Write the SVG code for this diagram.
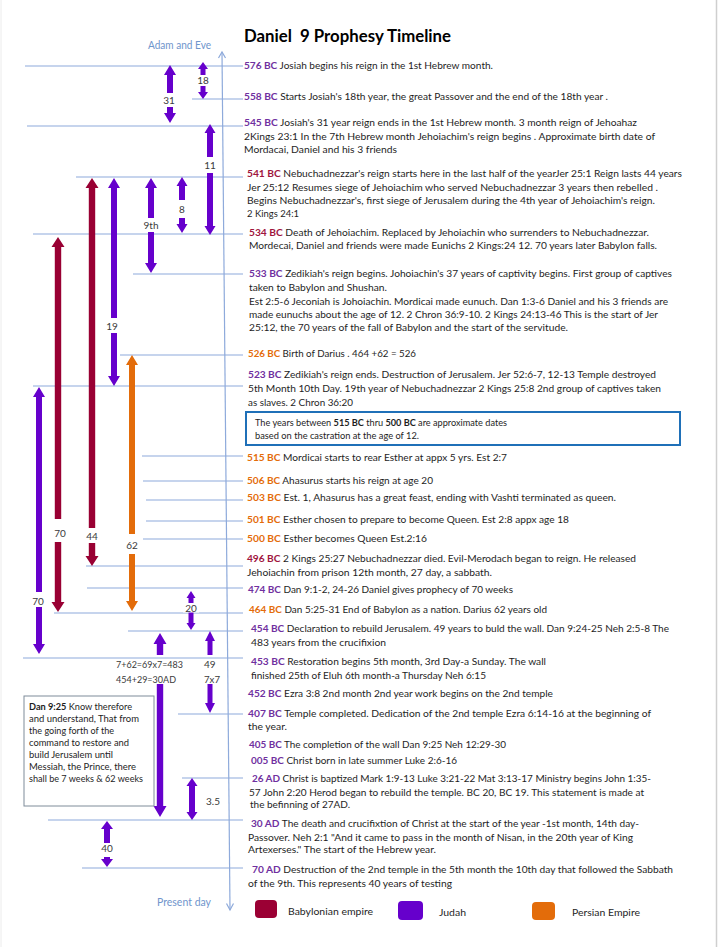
<svg xmlns="http://www.w3.org/2000/svg" width="720" height="947" viewBox="0 0 720 947">
<style>
text{font-family:Lato,"Liberation Sans",sans-serif;}
.t{font-size:10px;fill:#1e1e1e;}
.p{fill:#7030a0;font-weight:bold;}
.r{fill:#a0153e;font-weight:bold;}
.o{fill:#e46c0a;font-weight:bold;}
.hl{stroke:#8eaadb;stroke-width:1.2;fill:none;}
.ap{fill:#6600cc;}
.ar{fill:#990033;}
.ao{fill:#e36c0a;}
.lb{font-size:10px;fill:#3a3a3a;}
.bg{fill:#ffffff;}
.ax{font-size:10.5px;fill:#6f95cc;}
.nt{font-size:9px;fill:#1e1e1e;}
</style>
<rect x="0" y="0" width="720" height="947" fill="#ffffff"/>
<line x1="716.5" y1="0" x2="716.5" y2="947" stroke="#cfcfcf" stroke-width="1.5"/>
<line x1="1" y1="0" x2="1" y2="947" stroke="#ececec" stroke-width="1"/>

<g id="axis">
<line x1="222" y1="52" x2="230" y2="910" stroke="#8eaadb" stroke-width="1.2"/>
<polyline points="218.5,58 222,52 225.5,58" fill="none" stroke="#8eaadb" stroke-width="1.2"/>
<polyline points="226.5,903.5 230,910 233.5,903.5" fill="none" stroke="#8eaadb" stroke-width="1.2"/>
<text class="ax" x="148" y="49" textLength="63" lengthAdjust="spacingAndGlyphs">Adam and Eve</text>
<text class="ax" x="157" y="905.5" textLength="54" lengthAdjust="spacingAndGlyphs">Present day</text>
</g>

<g id="timeline-lines">
<line class="hl" x1="25" y1="66" x2="243" y2="66"/>
<line class="hl" x1="192" y1="99" x2="243" y2="99"/>
<line class="hl" x1="27" y1="126" x2="243" y2="126"/>
<line class="hl" x1="76" y1="177" x2="243" y2="177"/>
<line class="hl" x1="33" y1="234" x2="243" y2="234"/>
<line class="hl" x1="133" y1="274" x2="243" y2="274"/>
<line class="hl" x1="120" y1="355" x2="243" y2="355"/>
<line class="hl" x1="33" y1="386" x2="243" y2="386"/>
<line class="hl" x1="142" y1="456" x2="243" y2="456"/>
<line class="hl" x1="143" y1="481" x2="243" y2="481"/>
<line class="hl" x1="146" y1="500" x2="243" y2="500"/>
<line class="hl" x1="146" y1="521" x2="243" y2="521"/>
<line class="hl" x1="143" y1="539" x2="243" y2="539"/>
<line class="hl" x1="86" y1="566" x2="243" y2="566"/>
<line class="hl" x1="87" y1="588" x2="243" y2="588"/>
<line class="hl" x1="54" y1="613" x2="243" y2="613"/>
<line class="hl" x1="128" y1="631" x2="243" y2="631"/>
<line class="hl" x1="23" y1="658" x2="243" y2="658"/>
<line class="hl" x1="178" y1="714" x2="243" y2="714"/>
<line class="hl" x1="182" y1="778" x2="243" y2="778"/>
<line class="hl" x1="48" y1="820" x2="243" y2="820"/>
<line class="hl" x1="82" y1="868" x2="243" y2="868"/>
</g>

<g id="connectors">
<path class="ap" d="M170 65 L176 75 L173 75 L173 113 L176 113 L170 123 L164 113 L167 113 L167 75 L164 75 Z"/>
<path class="ap" d="M203 62 L208 69 L205.5 69 L205.5 92 L208 92 L203 99 L198 92 L200.5 92 L200.5 69 L198 69 Z"/>
<path class="ap" d="M210 124 L215.5 133 L213 133 L213 226 L215.5 226 L210 235 L204.5 226 L207 226 L207 133 L204.5 133 Z"/>
<path class="ar" d="M92 178 L98.5 188 L95.2 188 L95.2 556 L98.5 556 L92 566 L85.5 556 L88.8 556 L88.8 188 L85.5 188 Z"/>
<path class="ap" d="M114 178 L120 188 L117 188 L117 376 L120 376 L114 386 L108 376 L111 376 L111 188 L108 188 Z"/>
<path class="ap" d="M151 178 L157 188 L154 188 L154 263 L157 263 L151 273 L145 263 L148 263 L148 188 L145 188 Z"/>
<path class="ap" d="M182 177 L187.5 186 L185 186 L185 224 L187.5 224 L182 233 L176.5 224 L179 224 L179 186 L176.5 186 Z"/>
<path class="ar" d="M58 237 L64.5 247 L61.2 247 L61.2 602 L64.5 602 L58 612 L51.5 602 L54.8 602 L54.8 247 L51.5 247 Z"/>
<path class="ap" d="M39 387 L45 397 L42 397 L42 644 L45 644 L39 654 L33 644 L36 644 L36 397 L33 397 Z"/>
<path class="ao" d="M132 355 L138 365 L135 365 L135 601 L138 601 L132 611 L126 601 L129 601 L129 365 L126 365 Z"/>
<path class="ap" d="M191 591 L195.5 598 L193.5 598 L193.5 623 L195.5 623 L191 630 L186.5 623 L188.5 623 L188.5 598 L186.5 598 Z"/>
<path class="ap" d="M160 633 L166.5 644 L163.2 644 L163.2 655 L156.8 655 L156.8 644 L153.5 644 Z"/>
<path class="ap" d="M156.8 684 L163.2 684 L163.2 806 L166.5 806 L160 817 L153.5 806 L156.8 806 Z"/>
<path class="ap" d="M210 631 L215 641 L212.5 641 L212.5 655 L207.5 655 L207.5 641 L205 641 Z"/>
<path class="ap" d="M207.5 684 L212.5 684 L212.5 703 L215 703 L210 713 L205 703 L207.5 703 Z"/>
<path class="ap" d="M192 778 L197.5 786 L195 786 L195 812 L197.5 812 L192 820 L186.5 812 L189 812 L189 786 L186.5 786 Z"/>
<path class="ap" d="M107 821 L113 829 L110 829 L110 859 L113 859 L107 867 L101 859 L104 859 L104 829 L101 829 Z"/>
</g>

<g id="arrow-labels">
<rect class="bg" x="162" y="93" width="16" height="14"/>
<text class="lb" x="169" y="103.5" text-anchor="middle">31</text>
<rect class="bg" x="196" y="75" width="14" height="11"/>
<text class="lb" x="203" y="83.5" text-anchor="middle">18</text>
<rect class="bg" x="203" y="157" width="14" height="16"/>
<text class="lb" x="210" y="168.5" text-anchor="middle">11</text>
<rect class="bg" x="176" y="200" width="12" height="18"/>
<text class="lb" x="182" y="212.5" text-anchor="middle">8</text>
<rect class="bg" x="141" y="218" width="20" height="14"/>
<text class="lb" x="151" y="228.5" text-anchor="middle">9th</text>
<rect class="bg" x="105" y="318" width="16" height="15"/>
<text class="lb" x="112" y="329.5" text-anchor="middle">19</text>
<rect class="bg" x="51" y="519" width="17" height="23"/>
<text class="lb" x="60" y="536.5" text-anchor="middle">70</text>
<rect class="bg" x="84" y="528" width="16" height="15"/>
<text class="lb" x="92" y="539.5" text-anchor="middle">44</text>
<rect class="bg" x="124" y="534" width="16" height="20"/>
<text class="lb" x="132" y="548.5" text-anchor="middle">62</text>
<rect class="bg" x="30" y="592" width="17" height="15"/>
<text class="lb" x="38" y="604.5" text-anchor="middle">70</text>
<rect class="bg" x="183" y="603" width="16" height="9.5"/>
<text class="lb" x="191" y="611.5" text-anchor="middle">20</text>
<text class="lb" x="116" y="667.5" textLength="67" lengthAdjust="spacingAndGlyphs">7+62=69x7=483</text>
<text class="lb" x="116" y="682.5" textLength="60" lengthAdjust="spacingAndGlyphs">454+29=30AD</text>
<text class="lb" x="204" y="667.5">49</text>
<text class="lb" x="204" y="682.5" textLength="16" lengthAdjust="spacingAndGlyphs">7x7</text>
<text class="lb" x="206" y="804.5">3.5</text>
<rect class="bg" x="99" y="843" width="16" height="14"/>
<text class="lb" x="107" y="851.5" text-anchor="middle">40</text>
</g>

<g id="title">
<text xml:space="preserve" x="244" y="42" font-size="16.5" font-weight="bold" fill="#000" textLength="207" lengthAdjust="spacingAndGlyphs">Daniel  9 Prophesy Timeline</text>
</g>

<g id="ev-576">
<text class="t" x="244" y="69" textLength="249" lengthAdjust="spacingAndGlyphs"><tspan class="p">576 BC</tspan> Josiah begins his reign in the 1st Hebrew month.</text>
</g>
<g id="ev-558">
<text class="t" x="244" y="100" textLength="364" lengthAdjust="spacingAndGlyphs"><tspan class="p">558 BC</tspan> Starts Josiah's 18th year, the great Passover and the end of the 18th year .</text>
</g>
<g id="ev-545">
<text class="t" x="244" y="126" textLength="393" lengthAdjust="spacingAndGlyphs"><tspan class="p">545 BC</tspan> Josiah's 31 year reign ends in the 1st Hebrew month. 3 month reign of Jehoahaz</text>
<text class="t" x="244" y="140" textLength="411" lengthAdjust="spacingAndGlyphs">2Kings 23:1 In the 7th Hebrew month Jehoiachim's reign begins . Approximate birth date of</text>
<text class="t" x="244" y="153" textLength="153" lengthAdjust="spacingAndGlyphs">Mordacai, Daniel and his 3 friends</text>
</g>
<g id="ev-541">
<text class="t" x="247" y="177" textLength="435" lengthAdjust="spacingAndGlyphs"><tspan class="r">541 BC</tspan> Nebuchadnezzar's reign starts here in the last half of the yearJer 25:1 Reign lasts 44 years</text>
<text class="t" x="247" y="191" textLength="411" lengthAdjust="spacingAndGlyphs">Jer 25:12 Resumes siege of Jehoiachim who served Nebuchadnezzar 3 years then rebelled .</text>
<text class="t" x="247" y="203.5" textLength="408" lengthAdjust="spacingAndGlyphs">Begins Nebuchadnezzar's, first siege of Jerusalem during the 4th year of Jehoiachim's reign.</text>
<text class="t" x="247" y="217" textLength="52" lengthAdjust="spacingAndGlyphs">2 Kings 24:1</text>
</g>
<g id="ev-534">
<text class="t" x="249" y="236" textLength="400" lengthAdjust="spacingAndGlyphs"><tspan class="r">534 BC</tspan> Death of Jehoiachim. Replaced by Jehoiachin who surrenders to Nebuchadnezzar.</text>
<text class="t" x="249" y="249" textLength="408" lengthAdjust="spacingAndGlyphs">Mordecai, Daniel and friends were made Eunichs 2 Kings:24 12.  70 years later Babylon falls.</text>
</g>
<g id="ev-533">
<text class="t" x="249" y="277" textLength="423" lengthAdjust="spacingAndGlyphs"><tspan class="p">533 BC</tspan> Zedikiah's reign begins. Johoiachin's 37 years of captivity begins. First group of captives</text>
<text class="t" x="249" y="291" textLength="138" lengthAdjust="spacingAndGlyphs">taken to Babylon and Shushan.</text>
<text class="t" x="249" y="304.5" textLength="419" lengthAdjust="spacingAndGlyphs">Est 2:5-6 Jeconiah is Johoiachin. Mordicai made eunuch. Dan 1:3-6 Daniel and his 3 friends are</text>
<text class="t" x="249" y="317.5" textLength="409" lengthAdjust="spacingAndGlyphs">made eunuchs about the age of 12.  2 Chron 36:9-10.  2 Kings 24:13-46   This is the start of Jer</text>
<text class="t" x="249" y="331" textLength="319" lengthAdjust="spacingAndGlyphs">25:12,   the 70 years of the fall of Babylon and the start of the servitude.</text>
</g>
<g id="ev-526">
<text class="t" x="248" y="357" textLength="168" lengthAdjust="spacingAndGlyphs"><tspan class="o">526 BC</tspan> Birth of Darius . 464 +62 = 526</text>
</g>
<g id="ev-523">
<text class="t" x="248" y="378" textLength="408" lengthAdjust="spacingAndGlyphs"><tspan class="p">523 BC</tspan> Zedikiah's reign ends. Destruction of Jerusalem. Jer 52:6-7, 12-13  Temple destroyed</text>
<text class="t" x="248" y="392" textLength="413" lengthAdjust="spacingAndGlyphs">5th Month 10th Day. 19th year of Nebuchadnezzar 2 Kings 25:8   2nd group of captives taken</text>
<text class="t" x="248" y="405.5" textLength="105" lengthAdjust="spacingAndGlyphs">as slaves. 2 Chron 36:20</text>
</g>
<g id="note-approx">
<rect x="246" y="412" width="434" height="33" fill="#ffffff" stroke="#1f70b8" stroke-width="2"/>
<text class="nt" x="255" y="426" textLength="252" lengthAdjust="spacingAndGlyphs">The years between  <tspan font-weight="bold">515 BC</tspan> thru <tspan font-weight="bold">500 BC</tspan> are approximate dates</text>
<text class="nt" x="255" y="438.5" textLength="164" lengthAdjust="spacingAndGlyphs">based on the castration at the age of 12.</text>
</g>
<g id="ev-515">
<text class="t" x="247" y="461" textLength="260" lengthAdjust="spacingAndGlyphs"><tspan class="o">515 BC</tspan> Mordicai starts to rear Esther at appx 5 yrs.  Est 2:7</text>
</g>
<g id="ev-506">
<text class="t" x="247" y="484" textLength="186" lengthAdjust="spacingAndGlyphs"><tspan class="o">506 BC</tspan> Ahasurus starts his reign at age 20</text>
</g>
<g id="ev-503">
<text class="t" x="247" y="501" textLength="369" lengthAdjust="spacingAndGlyphs"><tspan class="o">503 BC</tspan> Est. 1, Ahasurus has a great feast, ending with Vashti terminated as queen.</text>
</g>
<g id="ev-501">
<text class="t" x="247" y="523" textLength="322" lengthAdjust="spacingAndGlyphs"><tspan class="o">501 BC</tspan> Esther chosen to prepare to become Queen.  Est 2:8 appx age 18</text>
</g>
<g id="ev-500">
<text class="t" x="247" y="542" textLength="180" lengthAdjust="spacingAndGlyphs"><tspan class="o">500 BC</tspan> Esther becomes  Queen Est.2:16</text>
</g>
<g id="ev-496">
<text class="t" x="247" y="562" textLength="389" lengthAdjust="spacingAndGlyphs"><tspan class="r">496 BC</tspan> 2 Kings 25:27 Nebuchadnezzar died. Evil-Merodach began to reign. He released</text>
<text class="t" x="247" y="576" textLength="245" lengthAdjust="spacingAndGlyphs">Jehoiachin from prison 12th month, 27 day, a  sabbath.</text>
</g>
<g id="ev-474">
<text class="t" x="248" y="593" textLength="265" lengthAdjust="spacingAndGlyphs"><tspan class="p">474 BC</tspan> Dan 9:1-2,  24-26 Daniel gives prophecy of 70 weeks</text>
</g>
<g id="ev-464">
<text class="t" x="249" y="613" textLength="298" lengthAdjust="spacingAndGlyphs"><tspan class="o">464 BC</tspan> Dan 5:25-31  End of Babylon as a nation. Darius 62 years old</text>
</g>
<g id="ev-454">
<text class="t" x="251" y="632" textLength="418" lengthAdjust="spacingAndGlyphs"><tspan class="p">454 BC</tspan> Declaration to rebuild Jerusalem. 49 years to buld the wall. Dan 9:24-25  Neh 2:5-8  The</text>
<text class="t" x="251" y="646" textLength="135" lengthAdjust="spacingAndGlyphs">483  years from the crucifixion</text>
</g>
<g id="ev-453">
<text class="t" x="251" y="665" textLength="295" lengthAdjust="spacingAndGlyphs"><tspan class="p">453 BC</tspan> Restoration begins  5th month, 3rd Day-a Sunday. The wall</text>
<text class="t" x="251" y="679" textLength="235" lengthAdjust="spacingAndGlyphs">finished 25th of Eluh 6th  month-a Thursday Neh 6:15</text>
</g>
<g id="ev-452">
<text class="t" x="248" y="697" textLength="305" lengthAdjust="spacingAndGlyphs"><tspan class="p">452 BC</tspan> Ezra 3:8  2nd  month 2nd year work begins on the 2nd temple</text>
</g>
<g id="ev-407">
<text class="t" x="248" y="717" textLength="403" lengthAdjust="spacingAndGlyphs"><tspan class="p">407 BC</tspan> Temple completed. Dedication of the 2nd temple  Ezra 6:14-16   at the beginning of</text>
<text class="t" x="248" y="730" textLength="39" lengthAdjust="spacingAndGlyphs">the year.</text>
</g>
<g id="ev-405">
<text class="t" x="249" y="748" textLength="257" lengthAdjust="spacingAndGlyphs"><tspan class="p">405 BC</tspan> The completion of the wall Dan 9:25  Neh 12:29-30</text>
</g>
<g id="ev-005">
<text class="t" x="251" y="764" textLength="206" lengthAdjust="spacingAndGlyphs"><tspan class="p">005 BC</tspan> Christ born in late summer Luke 2:6-16</text>
</g>
<g id="ev-26ad">
<text class="t" x="252" y="782" textLength="399" lengthAdjust="spacingAndGlyphs"><tspan class="p">26 AD</tspan> Christ is baptized Mark 1:9-13 Luke 3:21-22  Mat  3:13-17  Ministry begins John 1:35-</text>
<text class="t" x="249" y="796" textLength="395" lengthAdjust="spacingAndGlyphs">57 John 2:20  Herod began to rebuild the temple. BC 20, BC 19.  This statement is made at</text>
<text class="t" x="250" y="808" textLength="100" lengthAdjust="spacingAndGlyphs">the befinning of 27AD.</text>
</g>
<g id="ev-30ad">
<text class="t" x="251" y="827" textLength="388" lengthAdjust="spacingAndGlyphs"><tspan class="p">30 AD</tspan> The death and crucifixtion of Christ at the start of the year -1st month,  14th day-</text>
<text class="t" x="248" y="841" textLength="385" lengthAdjust="spacingAndGlyphs">Passover. Neh 2:1 "And it came to pass in the month of Nisan,  in the 20th  year of King</text>
<text class="t" x="248" y="853" textLength="188" lengthAdjust="spacingAndGlyphs">Artexerses." The start of the Hebrew year.</text>
</g>
<g id="ev-70ad">
<text class="t" x="252" y="873" textLength="421" lengthAdjust="spacingAndGlyphs"><tspan class="p">70 AD</tspan> Destruction of the 2nd temple in the 5th month the 10th  day that followed the Sabbath</text>
<text class="t" x="248" y="887" textLength="204" lengthAdjust="spacingAndGlyphs">of the 9th. This represents 40 years of testing</text>
</g>

<g id="note-dan925">
<rect x="24" y="696" width="130" height="110" fill="#ffffff" stroke="#7f8c99" stroke-width="1"/>
<text class="nt" x="29" y="710" textLength="103" lengthAdjust="spacingAndGlyphs"><tspan font-weight="bold">Dan 9:25</tspan>  Know therefore</text>
<text class="nt" x="29" y="722" textLength="110" lengthAdjust="spacingAndGlyphs">and  understand, That from</text>
<text class="nt" x="29" y="734" textLength="85" lengthAdjust="spacingAndGlyphs">the going forth of the</text>
<text class="nt" x="29" y="746" textLength="100" lengthAdjust="spacingAndGlyphs">command to restore and</text>
<text class="nt" x="29" y="758" textLength="84" lengthAdjust="spacingAndGlyphs">build Jerusalem until</text>
<text class="nt" x="29" y="770" textLength="107" lengthAdjust="spacingAndGlyphs">Messiah, the  Prince, there</text>
<text class="nt" x="29" y="782" textLength="114" lengthAdjust="spacingAndGlyphs">shall be 7 weeks  &amp; 62 weeks</text>
</g>

<g id="legend">
<rect x="255" y="900" width="22" height="18" rx="4" fill="#9b0034"/>
<text class="t" x="288" y="915" textLength="85" lengthAdjust="spacingAndGlyphs">Babylonian empire</text>
<rect x="398" y="901" width="25" height="19" rx="4" fill="#6600cc"/>
<text class="t" x="439" y="916" textLength="27" lengthAdjust="spacingAndGlyphs">Judah</text>
<rect x="532" y="902" width="23" height="18" rx="4" fill="#e36c0a"/>
<text class="t" x="572" y="916" textLength="68" lengthAdjust="spacingAndGlyphs">Persian Empire</text>
</g>
</svg>
